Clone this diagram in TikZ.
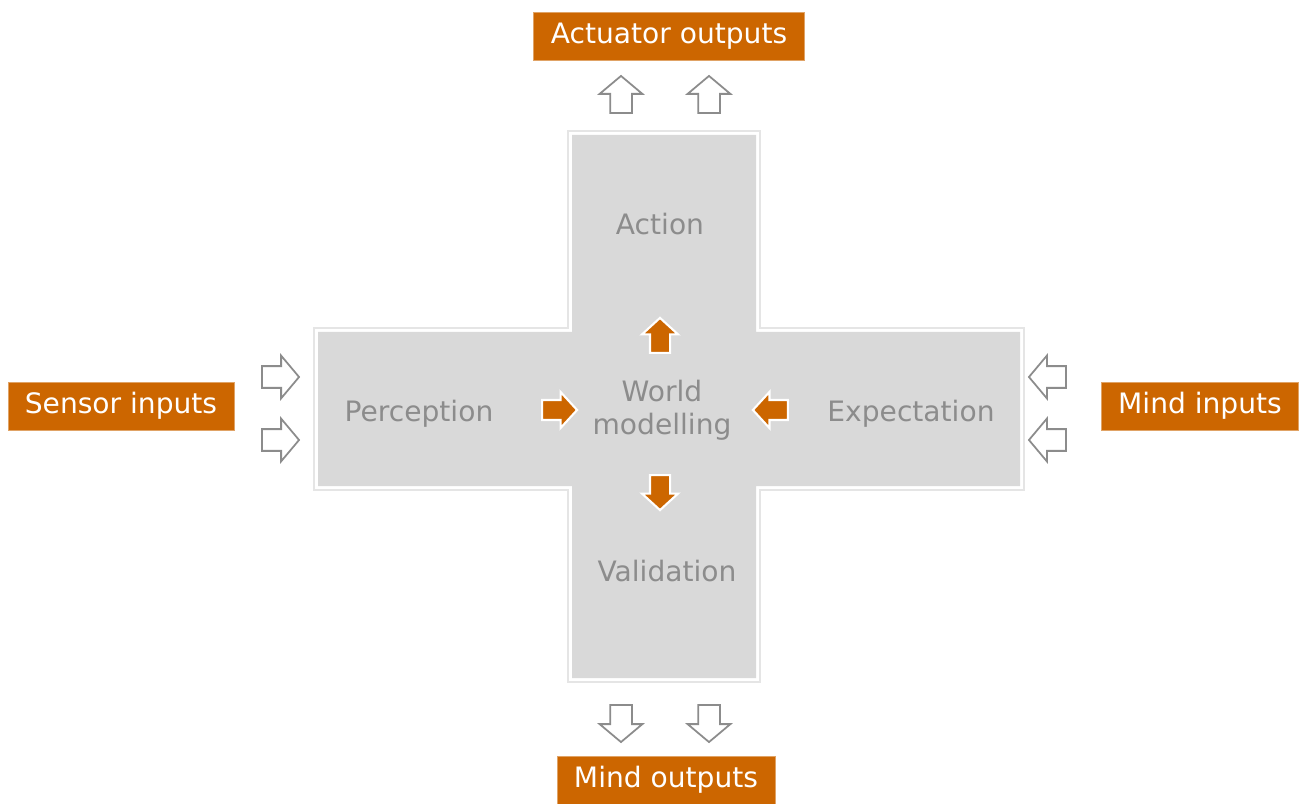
\documentclass[tikz,border=0pt]{standalone}
\usepackage{fontspec}
\setmainfont{DejaVu Sans}
\usepackage{tikz}
\usetikzlibrary{shapes.arrows}
\definecolor{rust}{RGB}{204,102,0}
\definecolor{panel}{RGB}{217,217,217}
\definecolor{label}{RGB}{140,140,140}

\begin{document}
\begin{tikzpicture}[x=0.02cm,y=-0.02cm,
  font=\fontsize{16}{18.7}\selectfont,
  tag/.style={fill=rust,draw=rust!60!white,line width=0.4pt,text=white,
    minimum height=0.96cm,inner xsep=0.34cm,inner ysep=0pt},
  stage/.style={text=label},
  hollow/.style={single arrow,draw=black!45,fill=white,line width=1pt,
    inner sep=0.2cm,minimum height=0.74cm,
    single arrow head extend=0.21cm,single arrow tip angle=100},
  flow/.style={single arrow,draw=white,fill=rust,line width=1.2pt,
    inner sep=0.18cm,minimum height=0.7cm,
    single arrow head extend=0.16cm,single arrow tip angle=95}]
\useasboundingbox (0,0) rectangle (1299,804);

% cross-shaped panel with its faint outline
\draw[black!10,line width=0.6pt] (568,131) -- (760,131) -- (760,328) -- (1024,328)
  -- (1024,490) -- (760,490) -- (760,682) -- (568,682) -- (568,490)
  -- (314,490) -- (314,328) -- (568,328) -- cycle;
\fill[panel] (572,135) -- (756,135) -- (756,332) -- (1020,332)
  -- (1020,486) -- (756,486) -- (756,678) -- (572,678) -- (572,486)
  -- (318,486) -- (318,332) -- (572,332) -- cycle;

% stages
\node[stage] (action) at (660,224) {Action};
\node[stage] (percep) at (419,414) {Perception};
\node[stage,align=center] (world) at (662,410) {World\\modelling};
\node[stage] (expect) at (911,414) {Expectation};
\node[stage] (valid) at (667,571) {Validation};

% arrows into the world model
\node[flow,shape border rotate=90] (toaction) at (660,340) {};
\node[flow] (fromper) at (555,410) {};
\node[flow,shape border rotate=180] (fromexp) at (775,410) {};
\node[flow,shape border rotate=270] (tovalid) at (660,488) {};

% labels outside
\node[tag] (actout) at (669,36) {Actuator outputs};
\node[tag] (sensin) at (121,406) {Sensor inputs};
\node[tag] (mindin) at (1200,406) {Mind inputs};
\node[tag] (mindout) at (666,780) {Mind outputs};

% hollow arrows between labels and panel
\node[hollow,shape border rotate=90] (up1) at (621,99) {};
\node[hollow,shape border rotate=90] (up2) at (709,99) {};
\node[hollow] (in1) at (276,377) {};
\node[hollow] (in2) at (276,440) {};
\node[hollow,shape border rotate=180] (mi1) at (1052,377) {};
\node[hollow,shape border rotate=180] (mi2) at (1052,440) {};
\node[hollow,shape border rotate=270] (down1) at (621,719) {};
\node[hollow,shape border rotate=270] (down2) at (709,719) {};
\end{tikzpicture}
\end{document}
